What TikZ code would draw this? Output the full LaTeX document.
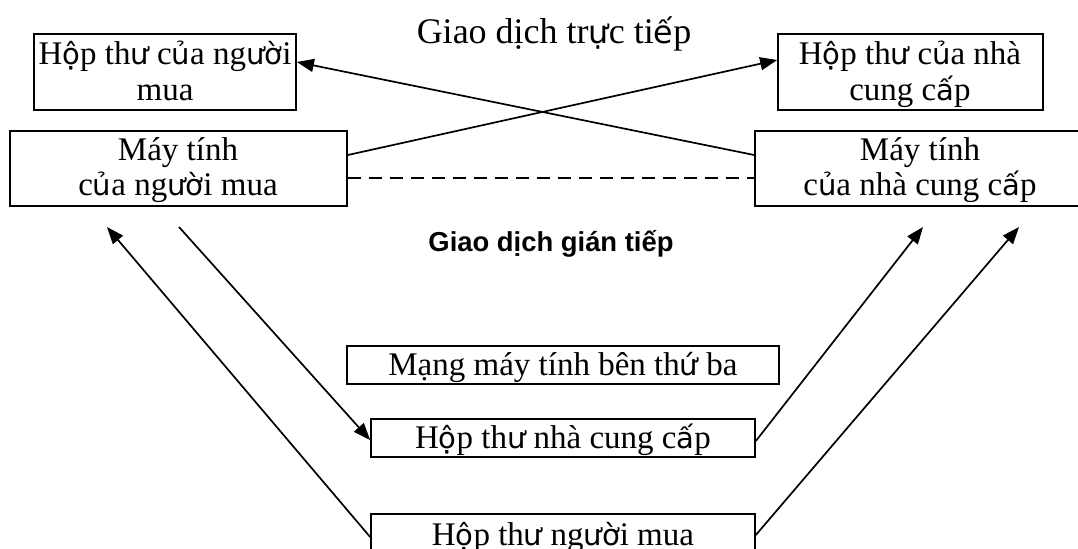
\documentclass[tikz,border=0pt]{standalone}
\usepackage{fontspec}
\setmainfont{Liberation Serif}
% Vietnamese letters with horn / stacked marks are set in a sans face
\newfontfamily\fbfont{DejaVu Sans}[Scale=0.88]
\newfontfamily\headfont{Liberation Sans}
\newcommand\fb[1]{{\fbfont #1}}
\usetikzlibrary{arrows.meta,fit}
\begin{document}
\begin{tikzpicture}[x=0.5pt,y=-0.5pt,
  box/.style={draw, line width=0.85pt, inner sep=0pt},
  txt/.style={anchor=base, inner sep=0pt, font=\fontsize{16.5}{18}\selectfont},
  title/.style={anchor=base, inner sep=0pt, font=\fontsize{18}{20}\selectfont},
  head/.style={anchor=base, inner sep=0pt, font=\headfont\bfseries\fontsize{13.7}{15}\selectfont},
  link/.style={line width=0.85pt, -{Triangle[length=8.5pt,width=6.5pt]}},
  dashline/.style={line width=0.85pt, dash pattern=on 6.5pt off 4pt}]
\clip (0,0) rectangle (1078,548);
\fill[white] (0,0) rectangle (1078,548);

% direct exchange
\node[title] (direct) at (554,43) {Giao dịch tr\fb{ự}c ti\fb{ế}p};

\node[box, fit={(34,34) (296,110)}] (A) {};
\node[txt] (A1) at (165,64) {H\fb{ộ}p th\fb{ư} c\fb{ủ}a ng\fb{ườ}i};
\node[txt] (A2) at (165,100) {mua};

\node[box, fit={(778,34) (1043,110)}] (C) {};
\node[txt] (C1) at (910,64) {H\fb{ộ}p th\fb{ư} c\fb{ủ}a nhà};
\node[txt] (C2) at (910,100) {cung c\fb{ấ}p};

\node[box, fit={(10,131) (347,206)}] (B) {};
\node[txt] (B1) at (178,160) {Máy tính};
\node[txt] (B2) at (178,195) {c\fb{ủ}a ng\fb{ườ}i mua};

\node[box, fit={(755,131) (1086,206)}] (D) {};
\node[txt] (D1) at (920,160) {Máy tính};
\node[txt] (D2) at (920,195) {c\fb{ủ}a nhà cung c\fb{ấ}p};

% indirect exchange
\node[head] (indirect) at (551,251) {Giao dịch gián tiếp};

\node[box, fit={(347,346) (779,384)}] (E) {};
\node[txt] (E1) at (563,375) {Mạng máy tính bên th\fb{ứ} ba};

\node[box, fit={(371,419) (755,457)}] (F) {};
\node[txt] (F1) at (563,448) {H\fb{ộ}p th\fb{ư} nhà cung c\fb{ấ}p};

\node[box, fit={(371,514) (755,552)}] (G) {};
\node[txt] (G1) at (563,545) {H\fb{ộ}p th\fb{ư} ng\fb{ườ}i mua};

% loose ends below the two computers
\coordinate (bin) at (107,227);
\coordinate (bout) at (179,227);
\coordinate (sin1) at (923,227);
\coordinate (sin2) at (1019,227);

% connectors
\draw[link] (B.east |- 0,155) -- (C.west |- 0,60);
\draw[link] (D.west |- 0,155) -- (A.east |- 0,62);
\draw[dashline] (B.east |- 0,178) -- (D.west |- 0,178);

\draw[link] (bout) -- (F.west |- 0,440);
\draw[link] (G.west |- 0,537) -- (bin);
\draw[link] (F.east |- 0,441) -- (sin1);
\draw[link] (G.east |- 0,535) -- (sin2);
\end{tikzpicture}
\end{document}
